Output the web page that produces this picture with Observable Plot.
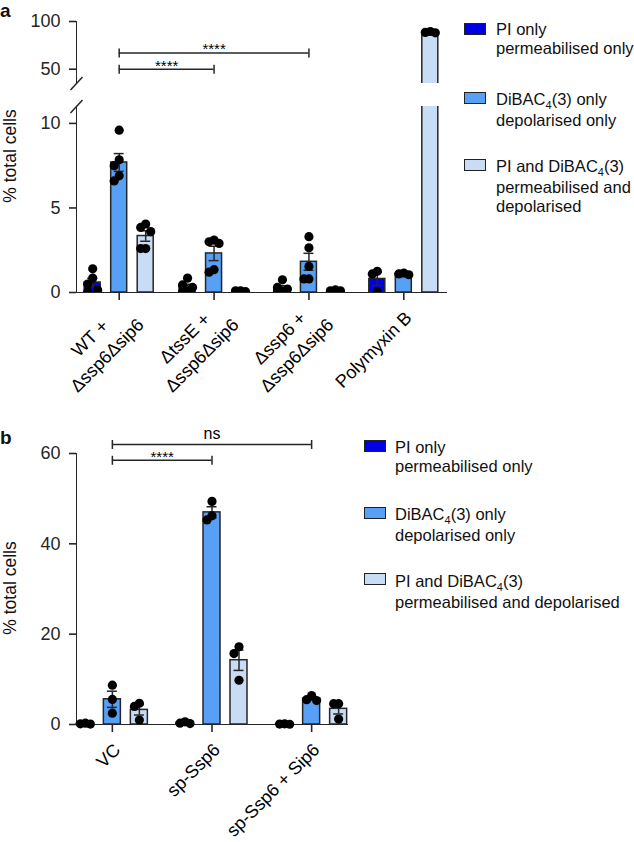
<!DOCTYPE html>
<html><head><meta charset="utf-8">
<script src="https://cdn.jsdelivr.net/npm/d3@7"></script>
<script src="https://cdn.jsdelivr.net/npm/@observablehq/plot@0.6"></script>
<style>
html,body{margin:0;padding:0;background:#fff;}
#page{position:relative;width:634px;height:842px;overflow:hidden;font-family:"Liberation Sans",Arial,Helvetica,sans-serif;color:#111;}
.abs{position:absolute;}
.letter{font-weight:bold;font-size:19px;line-height:22px;}
.ylab{font-size:17.5px;transform:translate(-50%,-50%) rotate(-90deg);white-space:nowrap;line-height:20px;}
.sw{position:absolute;width:20px;height:10px;border:1.5px solid #222;}
.tx{position:absolute;font-size:16.5px;line-height:19px;white-space:nowrap;}
.tx sub{font-size:11px;vertical-align:baseline;position:relative;top:4px;}
svg g[aria-label*="axis"], svg g[aria-label*="axis"] line, svg g[aria-label*="axis"] path{stroke-width:1.6px;}
</style></head>
<body><div id="page">
<div class="abs letter" style="left:0px;top:0px">a</div>
<div class="abs letter" style="left:0px;top:427px">b</div>
<div class="abs ylab" style="left:10px;top:156px">% total cells</div>
<div class="abs ylab" style="left:10px;top:588px">% total cells</div>
<div id="aUpper" class="abs" style="left:0;top:0"></div>
<div id="aLower" class="abs" style="left:0;top:96px"></div>
<div id="bPlot" class="abs" style="left:0;top:423px"></div>
<div id="legA"></div>
<div id="legB"></div>
</div>
<script>
// ---------- data ----------
const seriesNames = ["PI only", "DiBAC4(3) only", "PI and DiBAC4(3)"];
const seriesSub = ["permeabilised only", "depolarised only", "permeabilised and depolarised"];

const groupsA = ["WT + Δssp6Δsip6", "ΔtssE + Δssp6Δsip6", "Δssp6 + Δssp6Δsip6", "Polymyxin B"];
const groupLabelsA = ["WT +\nΔssp6Δsip6", "ΔtssE +\nΔssp6Δsip6", "Δssp6 +\nΔssp6Δsip6", "Polymyxin B"];
const piOnlyA = [[1.4, 0.85, 0.5, 0.15, 0.05], [0.85, 0.45, 0.3, 0.05, 0.05], [0.75, 0.3, 0.2, 0.05, 0.05], [1.25, 1.1, 0.05]];
const dibacOnlyA = [[9.6, 7.85, 7.5, 6.9, 6.6], [3.1, 3.0, 2.9, 1.35, 1.2], [3.3, 2.64, 1.54, 0.8, 0.8], [1.15, 1.1, 1.05]];
const piDibacA = [[4.05, 3.85, 3.6, 2.6, 2.6], [0.1, 0.05, 0.05, 0.1, 0.05], [0.15, 0.1, 0.05, 0.05, 0.1], [89.5, 88.6, 88.1]];
const yTicksAUpper = [50, 100];
const yTicksALower = [0, 5, 10];
const bracketsA = [
  {from: "WT + Δssp6Δsip6", to: "Δssp6 + Δssp6Δsip6", y: 67, label: "****"},
  {from: "WT + Δssp6Δsip6", to: "ΔtssE + Δssp6Δsip6", y: 50, label: "****"}
];

const groupsB = ["VC", "sp-Ssp6", "sp-Ssp6 + Sip6"];
const piOnlyB = [[0.3, 0.15, 0.1], [0.6, 0.3, 0.2], [0.15, 0.1, 0.05]];
const dibacOnlyB = [[8.7, 5.55, 2.5], [49.4, 46.2, 45.3], [6.4, 5.5, 5.3]];
const piDibacB = [[4.7, 4.0, 1.0], [17.2, 15.7, 9.8], [4.6, 4.6, 1.2]];
const yTicksB = [0, 20, 40, 60];
const bracketsB = [
  {from: "VC", to: "sp-Ssp6 + Sip6", y: 62, label: "ns"},
  {from: "VC", to: "sp-Ssp6", y: 58.5, label: "****"}
];

// ---------- styling ----------
const FONT = "Liberation Sans, Arial, Helvetica, sans-serif";
const seriesColors = ["#0000e4", "#58a0f6", "#c8dcf6"];
const INK = "#262626";

// ---------- helpers ----------
function tidy(groups, seriesArrays) {
  const rows = [], stats = [];
  seriesArrays.forEach((arr, s) => groups.forEach((g, gi) => {
    const vals = arr[gi];
    vals.forEach(v => rows.push({group: g, series: s, value: v}));
    const m = d3.mean(vals), sem = d3.deviation(vals) / Math.sqrt(vals.length);
    stats.push({group: g, series: s, mean: m, lo: m - sem, hi: m + sem});
  }));
  return {rows, stats};
}
function bandGeom(width, ml, mr, n, pi) {
  const step = (width - ml - mr) / (n - pi);
  return {step, bw: step * (1 - pi)};
}
function lanes(rows, pxPerUnit, laneStep, minDist) {
  const out = [];
  d3.group(rows, d => d.group, d => d.series).forEach(m => m.forEach(list => {
    const sorted = [...list].sort((a, b) => b.value - a.value);
    const placed = [];
    for (const d of sorted) {
      const y = d.value * pxPerUnit;
      let best = 0, bestScore = -Infinity;
      for (const c of [0, -laneStep, laneStep]) {
        const md = placed.length ? d3.min(placed, p => Math.hypot(p.c - c, p.y - y)) : Infinity;
        if (md >= minDist) { best = c; break; }
        if (md > bestScore) { bestScore = md; best = c; }
      }
      placed.push({c: best, y});
      out.push({...d, lane: best});
    }
  }));
  return out;
}
function dataMarks(t, cfg) {
  const {bw, offsets, barW, capW, clip, pxPerUnit} = cfg;
  const marks = [];
  offsets.forEach((off, s) => {
    marks.push(Plot.barY(t.stats.filter(d => d.series === s), {
      x: "group", y: "mean", dx: off, insetLeft: (bw - barW) / 2, insetRight: (bw - barW) / 2,
      fill: seriesColors[s], stroke: INK, strokeWidth: 1.5, clip}));
  });
  offsets.forEach((off, s) => {
    const st = t.stats.filter(d => d.series === s);
    marks.push(Plot.ruleX(st, {x: "group", y1: "lo", y2: "hi", dx: off, stroke: INK, strokeWidth: 1.5, clip}));
    for (const k of ["lo", "hi"]) {
      marks.push(Plot.tickY(st, {x: "group", y: k, dx: off, insetLeft: (bw - capW) / 2, insetRight: (bw - capW) / 2,
        stroke: INK, strokeWidth: 1.5, clip}));
    }
  });
  const laid = lanes(t.rows, pxPerUnit, 5, 8);
  for (const [dx, pts] of d3.group(laid, d => offsets[d.series] + d.lane)) {
    marks.push(Plot.dot(pts, {x: "group", y: "value", dx, r: 4.6, fill: "#000", stroke: "none", clip}));
  }
  return marks;
}
const vbar = {draw(ctx) { ctx.moveTo(0, -4.5); ctx.lineTo(0, 4.5); }};
const slash = {draw(ctx) { ctx.moveTo(-6, 6.5); ctx.lineTo(6, -6.5); }};
function bracketMarks(brackets, groups, geom) {
  const caps = brackets.flatMap(b => [{g: b.from, y: b.y}, {g: b.to, y: b.y}]);
  return [
    Plot.ruleY(brackets, {x1: "from", x2: "to", y: "y", insetLeft: geom.bw / 2, insetRight: geom.bw / 2, stroke: INK, strokeWidth: 1.5}),
    Plot.dot(caps, {x: "g", y: "y", symbol: vbar, r: 4, stroke: INK, strokeWidth: 1.5, fill: "none"}),
    ...brackets.map(b => Plot.text([b], {
      x: "from", y: "y", text: "label", lineAnchor: "bottom", textAnchor: "middle",
      dx: (groups.indexOf(b.to) - groups.indexOf(b.from)) * geom.step / 2,
      dy: b.label === "ns" ? -5 : 1.5, fontSize: b.label === "ns" ? 16 : 15, fill: "#000"}))
  ];
}
const baseStyle = {background: "transparent", fontFamily: FONT, fontSize: "18px", color: INK, overflow: "visible"};

// ---------- panel a ----------
const tA = tidy(groupsA, [piOnlyA, dibacOnlyA, piDibacA]);
const WA = 460, MLA = 76, MRA = 14, PIA = 0.1;
const gA = bandGeom(WA, MLA, MRA, groupsA.length, PIA);
const offA = [-26.5, 0, 26.5];
const upperDomain = [35, 100], upperH = 62;
const lowerDomain = [0, 11], lowerH = 186;

const aUpper = Plot.plot({
  width: WA, height: 21 + upperH, marginLeft: MLA, marginRight: MRA, marginTop: 21, marginBottom: 0,
  style: baseStyle,
  x: {domain: groupsA, paddingInner: PIA, paddingOuter: 0, round: false, axis: null},
  y: {domain: upperDomain, ticks: yTicksAUpper, tickSize: 7, tickPadding: 9, line: true, label: null},
  marks: [
    ...dataMarks(tA, {bw: gA.bw, offsets: offA, barW: 16, capW: 10, clip: true, pxPerUnit: upperH / (upperDomain[1] - upperDomain[0])}),
    ...bracketMarks(bracketsA, groupsA, gA),
    Plot.dot([upperDomain[0]], {y: d => d, frameAnchor: "left", symbol: slash, r: 6, stroke: INK, strokeWidth: 1.5, fill: "none"})
  ]
});
document.getElementById("aUpper").append(aUpper);

const labelRowsA = groupsA.map((g, i) => ({group: g, label: groupLabelsA[i]}));
const aLower = Plot.plot({
  width: WA, height: 10 + lowerH + 110, marginLeft: MLA, marginRight: MRA, marginTop: 10, marginBottom: 110,
  style: baseStyle,
  x: {domain: groupsA, paddingInner: PIA, paddingOuter: 0, round: false, tickSize: 8, tickFormat: () => "", line: true, label: null},
  y: {domain: lowerDomain, ticks: yTicksALower, tickSize: 7, tickPadding: 9, line: true, label: null},
  marks: [
    ...dataMarks(tA, {bw: gA.bw, offsets: offA, barW: 16, capW: 10, clip: true, pxPerUnit: lowerH / (lowerDomain[1] - lowerDomain[0])}),
    Plot.dot([lowerDomain[1]], {y: d => d, frameAnchor: "left", symbol: slash, r: 6, stroke: INK, strokeWidth: 1.5, fill: "none"}),
    Plot.text(labelRowsA.filter(d => d.label.includes("\n")), {x: "group", text: "label", frameAnchor: "bottom",
      rotate: -45, textAnchor: "middle", lineAnchor: "middle", lineHeight: 1.35, dx: -22, dy: 53, fontSize: 18, fill: "#000"}),
    Plot.text(labelRowsA.filter(d => !d.label.includes("\n")), {x: "group", text: "label", frameAnchor: "bottom",
      rotate: -45, textAnchor: "end", lineAnchor: "bottom", dx: 9, dy: 26.5, fontSize: 18, fill: "#000"})
  ]
});
document.getElementById("aLower").append(aLower);

// ---------- panel b ----------
const tB = tidy(groupsB, [piOnlyB, dibacOnlyB, piDibacB]);
const WB = 360, MLB = 76, MRB = 13, PIB = 0.28;
const gB = bandGeom(WB, MLB, MRB, groupsB.length, PIB);
const bDomain = [0, 60], bH = 271;
const bPlot = Plot.plot({
  width: WB, height: 30 + bH + 118, marginLeft: MLB, marginRight: MRB, marginTop: 30, marginBottom: 118,
  style: baseStyle,
  x: {domain: groupsB, paddingInner: PIB, paddingOuter: 0, round: false, tickSize: 8, tickFormat: () => "", line: true, label: null},
  y: {domain: bDomain, ticks: yTicksB, tickSize: 7, tickPadding: 9, line: true, label: null},
  marks: [
    ...dataMarks(tB, {bw: gB.bw, offsets: [-27, 0, 27], barW: 17, capW: 10, clip: false, pxPerUnit: bH / (bDomain[1] - bDomain[0])}),
    ...bracketMarks(bracketsB, groupsB, gB),
    Plot.text(groupsB, {x: d => d, text: d => d, frameAnchor: "bottom", rotate: -45, textAnchor: "end",
      lineAnchor: "bottom", dx: 9, dy: 26.5, fontSize: 18, fill: "#000"})
  ]
});
document.getElementById("bPlot").append(bPlot);

// ---------- legends ----------
function fmt(name) { return name.replace("DiBAC4", "DiBAC<sub>4</sub>"); }
function legend(el, entries) {
  const root = document.getElementById(el);
  for (const e of entries) {
    const sw = document.createElement("div");
    sw.className = "sw";
    sw.style.left = e.sx + "px"; sw.style.top = e.sy + "px"; sw.style.background = e.color;
    root.append(sw);
    const tx = document.createElement("div");
    tx.className = "tx";
    tx.style.left = e.tx + "px"; tx.style.top = e.ty + "px";
    tx.innerHTML = e.lines.join("<br>");
    root.append(tx);
  }
}
legend("legA", [
  {sx: 464, sy: 23, tx: 496, ty: 19.6, color: seriesColors[0], lines: [fmt(seriesNames[0]), "permeabilised only"]},
  {sx: 464, sy: 92, tx: 496, ty: 89.6, color: seriesColors[1], lines: [fmt(seriesNames[1]), "depolarised only"]},
  {sx: 464, sy: 159, tx: 496, ty: 157.3, color: seriesColors[2], lines: [fmt(seriesNames[2]), "permeabilised and", "depolarised"]}
]);
legend("legB", [
  {sx: 364, sy: 440, tx: 395, ty: 437.6, color: seriesColors[0], lines: [fmt(seriesNames[0]), seriesSub[0]]},
  {sx: 364, sy: 507, tx: 395, ty: 504.6, color: seriesColors[1], lines: [fmt(seriesNames[1]), seriesSub[1]]},
  {sx: 364, sy: 573, tx: 395, ty: 571.6, color: seriesColors[2], lines: [fmt(seriesNames[2]), seriesSub[2]]}
]);
</script>
</body></html>
